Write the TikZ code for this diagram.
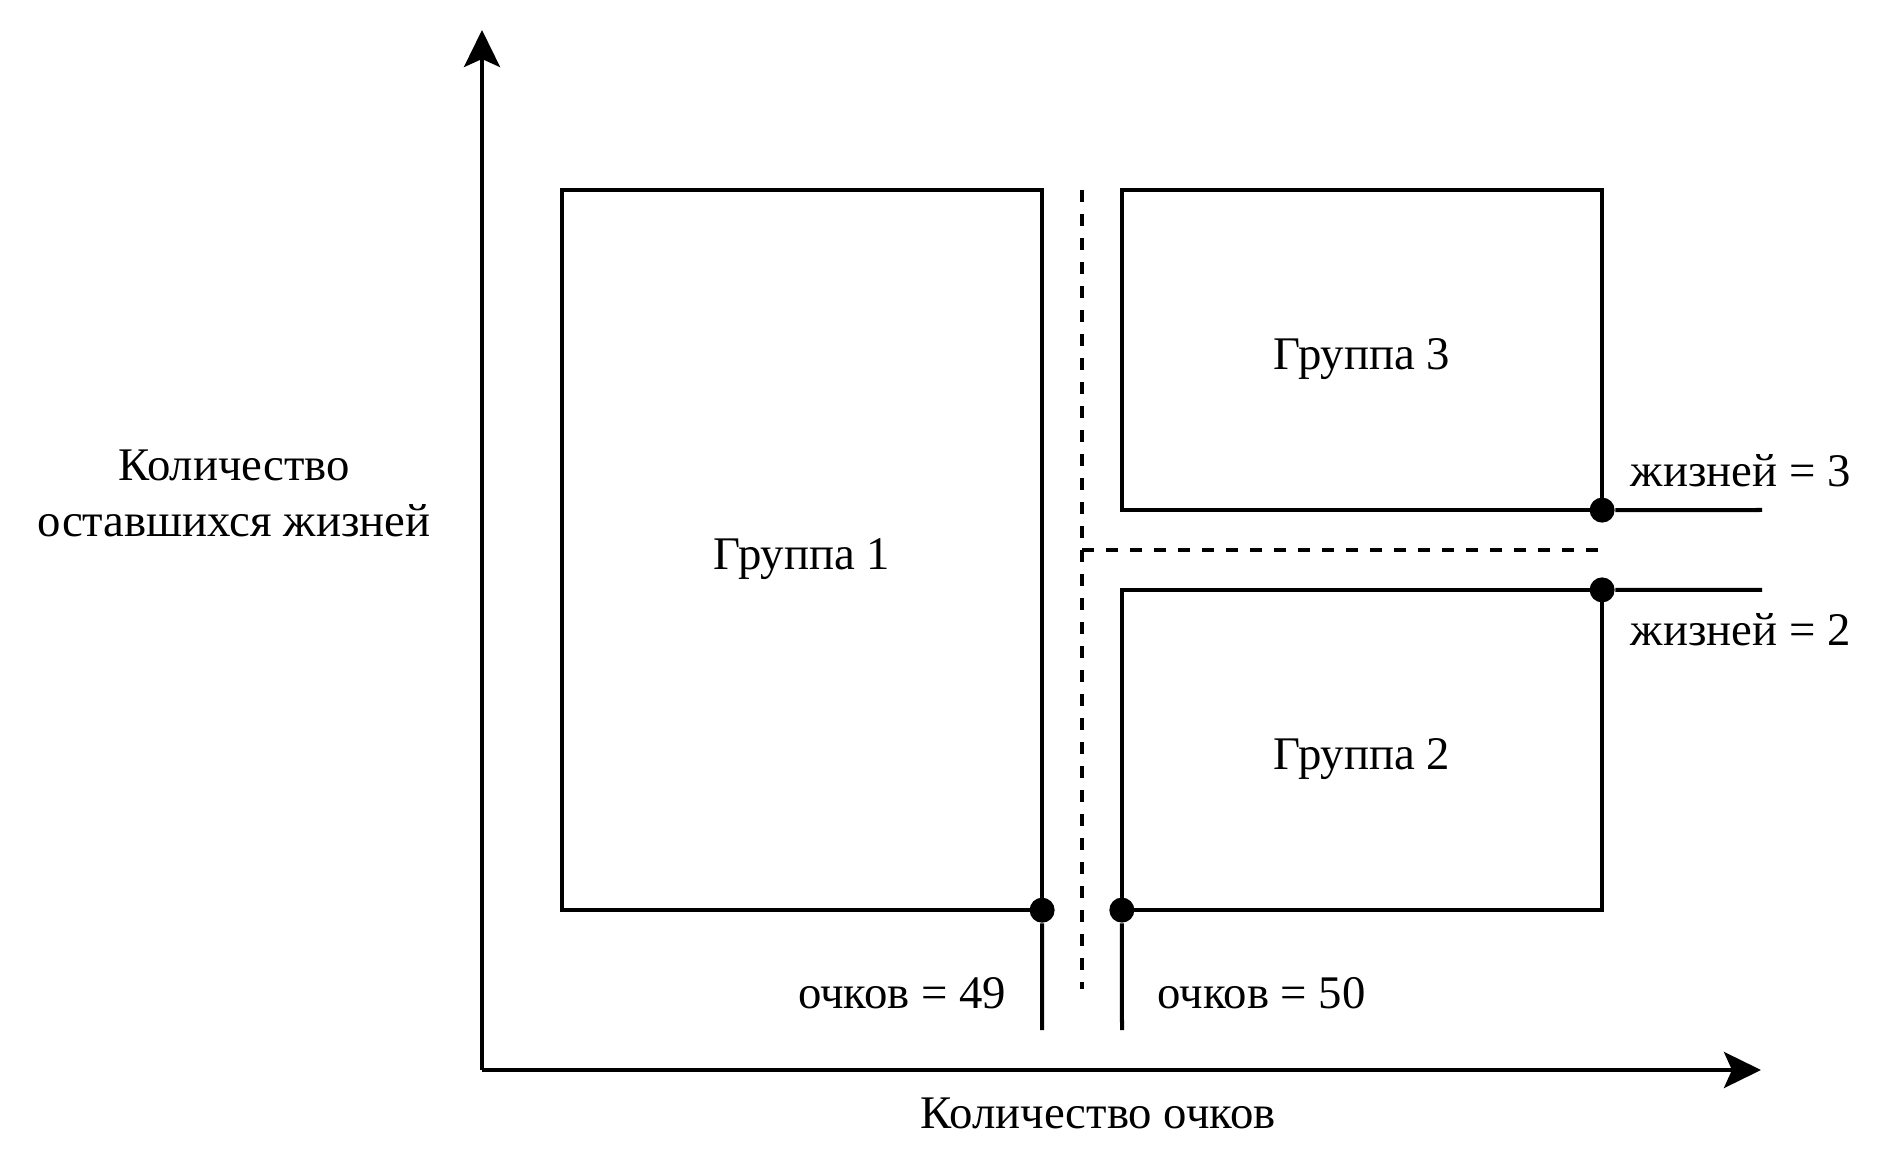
\documentclass[tikz,border=0pt]{standalone}
\usepackage{fontspec}
\setmainfont{Liberation Serif}
\usetikzlibrary{arrows.meta}
\usetikzlibrary{positioning}

\begin{document}
\begin{tikzpicture}[x=0.01cm,y=-0.01cm,font=\fontsize{13.3}{16.2}\selectfont]
	\tikzset{
	  group/.style={draw,line width=0.4mm,inner sep=0pt,outer sep=0pt,minimum width=4.8cm,
	    text height=3.8mm,text depth=0pt},
	  dot/.style={circle,inner sep=0pt,minimum size=2.5mm,fill=black},
	  axis/.style={line width=0.4mm,-{Stealth[length=3.7mm,width=3.6mm,inset=0.8mm]}},
	  border/.style={line width=0.4mm,dash pattern=on 1.2mm off 1.2mm},
	  lbl/.style={inner sep=0pt}
	}
	\useasboundingbox (0,0) rectangle (1884,1152);
	%AXES
	\coordinate (O) at (482,1070);
	\coordinate (ytip) at (482,30);
	\coordinate (xtip) at (1761,1070);
	\draw[axis] (O) -- (ytip);
	\draw[axis] (O) -- (xtip);
	\node[lbl,anchor=base] (xlbl) at (1098,1128) {Количество очков};
	\node[lbl,anchor=base,align=center] (ylbl) at (234,537) {Количество\\оставшихся жизней};
	%GROUPS
	\node[group,minimum height=7.2cm] (g1) at (802,550) {Группа 1};
	\node[group,minimum height=3.2cm] (g3) at (1362,350) {Группа 3};
	\node[group,minimum height=3.2cm] (g2) at (1362,750) {Группа 2};
	%DASHED BORDERS
	\coordinate (dtop) at (1082,190);
	\coordinate (dbot) at (1082,989);
	\coordinate (dmid) at (1082,550);
	\coordinate (dend) at (1602,550);
	\draw[border] (dtop) -- (dbot);
	\draw[border] (dmid) -- (dend);
	%THRESHOLDS
	\coordinate (e49) at (1042,1030);
	\coordinate (e50) at (1122,1030);
	\coordinate (e3) at (1762,510);
	\coordinate (e2) at (1762,590);
	\foreach \n/\p in {d49/g1.south east,d50/g2.south west,d3/g3.south east,d2/g2.north east}{
	  \node[dot] (\n) at (\p) {};
	}
	\foreach \a/\b in {d49/e49,d50/e50,d3/e3,d2/e2}{
	  \draw[line width=0.4mm] (\a) -- (\b);
	}
	\node[lbl,anchor=base east] (l49) at (1007,1008) {очков = 49};
	\node[lbl,anchor=base west] (l50) at (1157,1008) {очков = 50};
	\node[lbl,anchor=base west] (l3) at (1630,487) {жизней = 3};
	\node[lbl,anchor=base west] (l2) at (1630,646) {жизней = 2};
\end{tikzpicture}
\end{document}
